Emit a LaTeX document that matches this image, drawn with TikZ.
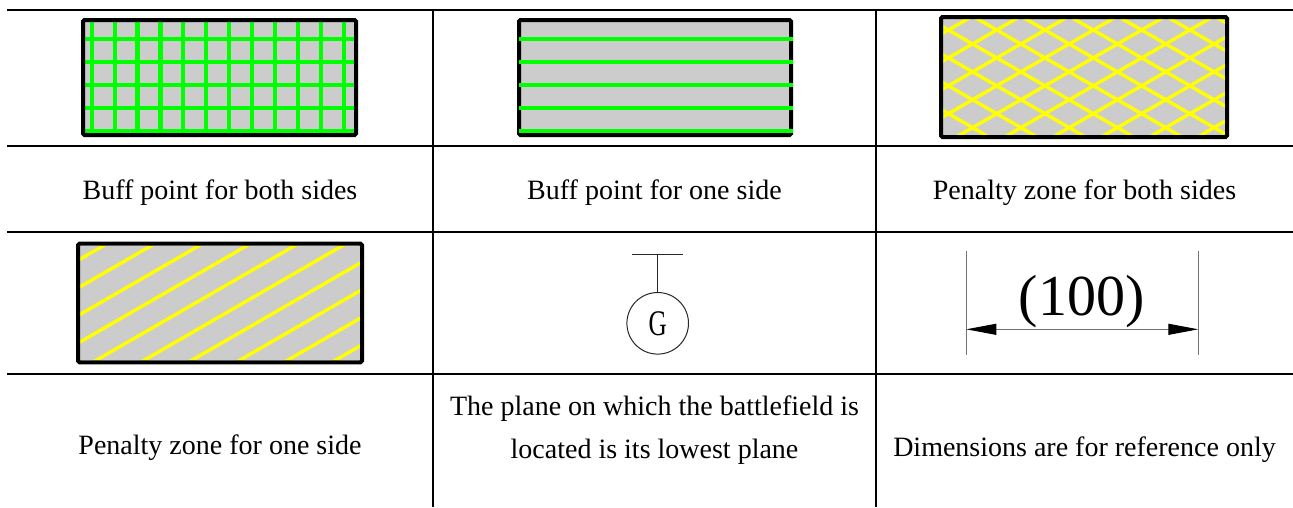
\documentclass[tikz,border=0pt]{standalone}
\usepackage{fontspec}
\setmainfont{Liberation Serif}
\usetikzlibrary{arrows.meta}
\definecolor{fillgray}{HTML}{CCCCCC}
\definecolor{hgreen}{HTML}{00FF00}
\definecolor{hyellow}{HTML}{FFFF00}
\begin{document}
\begin{tikzpicture}[x=1pt,y=-1pt,
  rule/.style={line width=2.7pt},
  celltext/.style={font=\fontsize{28}{34}\selectfont, anchor=base, inner sep=0pt},
  zonebox/.style={draw=black, line width=4pt, rounded corners=1.5pt},
  greenline/.style={hgreen, line width=4.2pt},
  yellowline/.style={hyellow, line width=3.4pt},
  hairline/.style={line width=1pt, black!85},
  dimline/.style={line width=0.9pt, black!55}
]
\useasboundingbox (0,0) rectangle (1293,507);

% table rules
\draw[rule] (7,10) -- (1293,10);
\draw[rule] (7,146) -- (1293,146);
\draw[rule] (7,232) -- (1293,232);
\draw[rule] (7,374) -- (1293,374);
\draw[rule] (433,8.65) -- (433,507);
\draw[rule] (876,8.65) -- (876,507);

% symbol 1: grid
\fill[fillgray] (83,20) rectangle (356,135);
\foreach \i in {0,...,11} \draw[greenline] ({91.7+22.9*\i},22) -- ({91.7+22.9*\i},133);
\foreach \y in {39,62,85,107.7,130.7} \draw[greenline] (85,\y) -- (354,\y);
\draw[zonebox] (83,20) rectangle (356,135);

% symbol 2: horizontal lines
\fill[fillgray] (519,20) rectangle (791,135);
\draw[zonebox] (519,20) rectangle (791,135);
\foreach \y in {39.3,62.3,85,107.7,131} \draw[greenline] (519,\y) -- (792.7,\y);

% symbol 3: crosshatch
\begin{scope}
\clip (943,19) rectangle (1225,135);
\fill[fillgray] (943,19) rectangle (1225,135);
\foreach \k in {-6,...,10} {
  \draw[yellowline] ({996.7+48.3*\k-250},{30+250*0.5774}) -- ({996.7+48.3*\k+250},{30-250*0.5774});
  \draw[yellowline] ({996.7+48.3*\k-250},{30-250*0.5774}) -- ({996.7+48.3*\k+250},{30+250*0.5774});
}
\end{scope}
\draw[zonebox] (941,17) rectangle (1227,137);

% symbol 4: single hatch
\begin{scope}
\clip (79,245.7) rectangle (361,360.3);
\fill[fillgray] (79,245.7) rectangle (361,360.3);
\foreach \k in {-6,...,7} {
  \draw[yellowline] ({96.7+47.8*\k-300},{360+300*0.5774}) -- ({96.7+47.8*\k+300},{360-300*0.5774});
}
\end{scope}
\draw[zonebox] (78,243.7) rectangle (362,362.3);

% symbol 5: G mark
\coordinate (barL) at (632.3,254);
\coordinate (barR) at (683.3,254);
\coordinate (stemtop) at (657.7,254);
\node[circle, draw=black!85, line width=1pt, minimum size=61.6pt, inner sep=0pt] (g) at (657.7,323.3)
  {\scalebox{0.7}[1]{\fontsize{36}{36}\selectfont G}};
\draw[hairline] (barL) -- (barR);
\draw[hairline] (stemtop) -- (g.north);

% symbol 6: dimension
\coordinate (dlt) at (966.3,251);
\coordinate (dlb) at (966.3,355);
\coordinate (drt) at (1198.3,251);
\coordinate (drb) at (1198.3,355);
\coordinate (al) at (966.3,329.3);
\coordinate (ar) at (1198.3,329.3);
\draw[dimline] (dlt) -- (dlb);
\draw[dimline] (drt) -- (drb);
\draw[dimline, {Triangle[length=30pt,width=11pt,black]}-{Triangle[length=30pt,width=11pt,black]}] (al) -- (ar);
\node[font=\fontsize{58}{58}\selectfont, anchor=base, inner sep=0pt] (dim) at (1081.7,315) {(100)};

% labels
\node[celltext] (t1) at (220,199) {Buff point for both sides};
\node[celltext] (t2) at (654.5,199) {Buff point for one side};
\node[celltext] (t3) at (1084.5,199) {Penalty zone for both sides};
\node[celltext] (t4) at (220,454.5) {Penalty zone for one side};
\node[celltext] (t5a) at (654.5,415) {The plane on which the battlefield is};
\node[celltext] (t5b) at (654.5,458) {located is its lowest plane};
\node[celltext] (t6) at (1084.5,456) {Dimensions are for reference only};
\end{tikzpicture}
\end{document}
